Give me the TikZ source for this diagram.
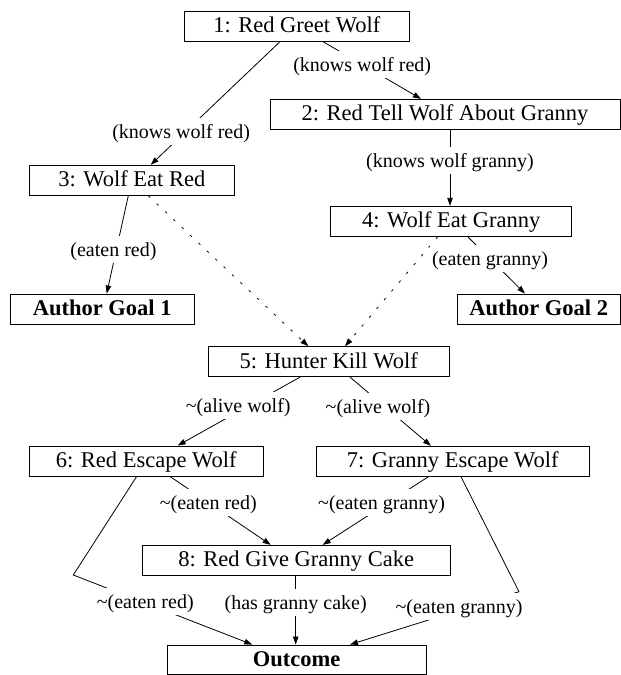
\documentclass[tikz,border=0pt]{standalone}
\usepackage{fontspec}
\setmainfont{Liberation Serif}
\usetikzlibrary{arrows.meta}
\begin{document}
\begin{tikzpicture}[x=1pt,y=-1pt,
  box/.style={draw, line width=0.9pt, rectangle, inner sep=0pt, minimum height=30pt,
    text height=15.5pt, text depth=2.5pt, font=\fontsize{22.5}{27}\selectfont},
  bbox/.style={box, font=\fontsize{22.5}{27}\selectfont\bfseries},
  arr/.style={line width=0.8pt, -{Triangle[length=8pt,width=5.5pt]}},
  dotarr/.style={arr, dash pattern=on 2.5pt off 9pt},
  lbl/.style={fill=white, inner xsep=2pt, inner ysep=5.5pt, text height=15pt, text depth=1pt,
    font=\fontsize{20}{24}\selectfont}]
\useasboundingbox (0,0) rectangle (621,675);

\node[box, minimum width=225pt] (n1) at (296.8,26.2) {1: Red Greet Wolf};
\node[box, minimum width=350pt] (n2) at (445,114.3) {2: Red Tell Wolf About Granny};
\node[box, minimum width=205pt] (n3) at (131.8,180.3) {3: Wolf Eat Red};
\node[box, minimum width=241pt] (n4) at (451.2,221.3) {4: Wolf Eat Granny};
\node[bbox, minimum width=184pt] (g1) at (102.2,309) {Author Goal 1};
\node[bbox, minimum width=163pt] (g2) at (538.7,309) {Author Goal 2};
\node[box, minimum width=240.7pt] (n5) at (328.7,361.7) {5: Hunter Kill Wolf};
\node[box, minimum width=234pt] (n6) at (146.3,461) {6: Red Escape Wolf};
\node[box, minimum width=273.3pt] (n7) at (452.7,461.3) {7: Granny Escape Wolf};
\node[box, minimum width=307.7pt] (n8) at (296.2,560.3) {8: Red Give Granny Cake};
\node[bbox, minimum width=258.7pt, minimum height=29pt] (out) at (296.7,659.5) {Outcome};

\coordinate (c6) at (73.3,575);
\coordinate (c7) at (519,591.7);

% edges
\draw[arr] ([xshift=-16.8pt]n1.south) -- node[lbl, pos=0.726, xshift=-5pt] {(knows wolf red)} ([xshift=18.9pt]n3.north);
\draw[arr] ([xshift=26.2pt]n1.south) -- node[lbl, pos=0.40] {(knows wolf red)} ([xshift=-24pt]n2.north);
\draw[arr] ([xshift=5pt]n2.south) -- node[lbl, pos=0.40] {(knows wolf granny)} ([xshift=-1.2pt]n4.north);
\draw[arr] ([xshift=-3.5pt]n3.south) -- node[lbl, pos=0.55, xshift=-3pt] {(eaten red)} ([xshift=4.5pt]g1.north);
\draw[dotarr] ([xshift=16.5pt]n3.south) -- ([xshift=-20.4pt]n5.north);
\draw[dotarr] ([xshift=-13.5pt]n4.south) -- ([xshift=16.3pt]n5.north);
\draw[arr] ([xshift=16.5pt]n4.south) -- node[lbl, pos=0.39] {(eaten granny)} ([xshift=-13.7pt]g2.north);
\draw[arr] ([xshift=-28.7pt]n5.south) -- node[lbl, pos=0.415, xshift=-11pt] {\textasciitilde(alive wolf)} ([xshift=31.4pt]n6.north);
\draw[arr] ([xshift=21.3pt]n5.south) -- node[lbl, pos=0.42, xshift=-6pt] {\textasciitilde(alive wolf)} ([xshift=-21.7pt]n7.north);
\draw[arr] ([xshift=23.7pt]n6.south) -- node[lbl, pos=0.38] {\textasciitilde(eaten red)} ([xshift=-25.5pt]n8.north);
\draw[arr] ([xshift=-24.4pt]n7.south) -- node[lbl, pos=0.385, xshift=-6pt] {\textasciitilde(eaten granny)} ([xshift=26.5pt]n8.north);
\draw[arr] ([xshift=-9.6pt]n6.south) -- (c6) -- node[lbl, pos=0.385, xshift=3pt] {\textasciitilde(eaten red)} ([xshift=-44.4pt]out.north);
\draw[arr] ([xshift=8.3pt]n7.south) -- (c7) -- node[lbl, pos=0.355, yshift=3.5pt] {\textasciitilde(eaten granny)} ([xshift=53.3pt]out.north);
\draw[arr] ([xshift=-0.5pt]n8.south) -- node[lbl, pos=0.395] {(has granny cake)} ([xshift=-1pt]out.north);
\end{tikzpicture}
\end{document}
